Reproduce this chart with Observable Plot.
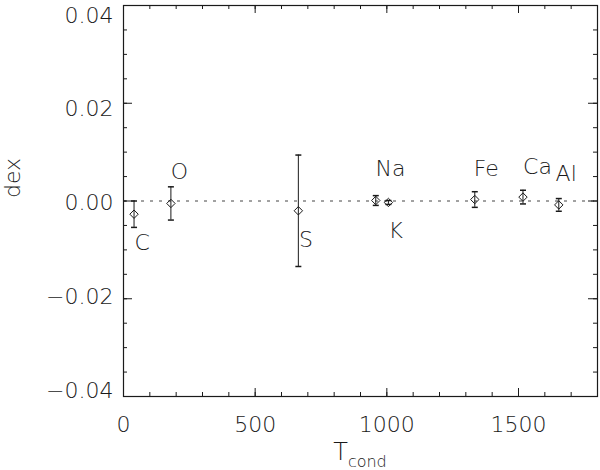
<!DOCTYPE html>
<html><head><meta charset="utf-8">
<script src="https://cdn.jsdelivr.net/npm/d3@7"></script>
<script src="https://cdn.jsdelivr.net/npm/@observablehq/plot@0.6"></script>
<style>
body{margin:0;background:#fff;}
#chart svg{display:block;}
</style></head><body><div id="chart"></div>
<script>
// ---- data ----
const elements = ["C", "O", "S", "Na", "K", "Fe", "Ca", "Al"];
const tcond    = [40, 180, 664, 958, 1006, 1334, 1517, 1653];
const dexVal   = [-0.0027, -0.0005, -0.0020, 0.0001, -0.0003, 0.0003, 0.0008, -0.0008];
const dexErr   = [0.0027, 0.0034, 0.0114, 0.0010, 0.0004, 0.0016, 0.0014, 0.0013];
// label anchors (data units)
const labelT   = [71, 212, 693, 1014, 1034, 1378, 1572, 1681];
const labelDex = [-0.0085, 0.0060, -0.0080, 0.0065, -0.0061, 0.0065, 0.0070, 0.0055];
// axes
const xMajor = [0, 500, 1000, 1500];
const xMinor = d3.range(0, 1801, 100);
const yMajor = [-0.04, -0.02, 0.00, 0.02, 0.04];
const yMinor = d3.range(-8, 9).map(i => i * 0.005);
const yTickLabels = ["\u22120.04", "\u22120.02", "0.00", "0.02", "0.04"];
const xTickLabels = ["0", "500", "1000", "1500"];

const points = elements.map((e, i) => ({el: e, t: tcond[i], v: dexVal[i], e: dexErr[i], lt: labelT[i], lv: labelDex[i]}));

const W = 600, H = 470, mL = 123, mR = 3, mT = 5, mB = 74;
const iw = W - mL - mR, ih = H - mT - mB;
const font = "DejaVu Sans";
const ink = "#1a1a1a";

const hbar = {draw(ctx, size) { const w = 3; ctx.moveTo(-w, 0); ctx.lineTo(w, 0); }};
const diamond = {draw(ctx, size) { const r = 4.2; ctx.moveTo(0, -r); ctx.lineTo(r, 0); ctx.lineTo(0, r); ctx.lineTo(-r, 0); ctx.closePath(); }};

const chart = Plot.plot({
  width: W, height: H,
  marginLeft: mL, marginRight: mR, marginTop: mT, marginBottom: mB,
  x: {domain: [0, 1800], axis: null},
  y: {domain: [-0.04, 0.04], axis: null},
  style: {fontFamily: font, background: "#fff", overflow: "visible"},
  marks: [
    Plot.ruleY([0], {stroke: "#444", strokeWidth: 1, strokeDasharray: "3,6"}),
    // ticks (inside, all four sides)
    Plot.tickX(xMinor, {x: d => d, insetTop: ih - 4, stroke: ink}),
    Plot.tickX(xMajor, {x: d => d, insetTop: ih - 8, stroke: ink}),
    Plot.tickX(xMinor, {x: d => d, insetBottom: ih - 4, stroke: ink}),
    Plot.tickX(xMajor, {x: d => d, insetBottom: ih - 8, stroke: ink}),
    Plot.tickY(yMinor, {y: d => d, insetRight: iw - 4, stroke: ink}),
    Plot.tickY(yMajor, {y: d => d, insetRight: iw - 9, stroke: ink}),
    Plot.tickY(yMinor, {y: d => d, insetLeft: iw - 4, stroke: ink}),
    Plot.tickY(yMajor, {y: d => d, insetLeft: iw - 9, stroke: ink}),
    Plot.frame({stroke: ink, strokeWidth: 1.2}),
    // error bars
    Plot.ruleX(points, {x: "t", y1: d => d.v - d.e, y2: d => d.v + d.e, stroke: ink}),
    Plot.dot(points, {x: "t", y: d => d.v + d.e, symbol: hbar, r: 3, stroke: ink, fill: "none"}),
    Plot.dot(points, {x: "t", y: d => d.v - d.e, symbol: hbar, r: 3, stroke: ink, fill: "none"}),
    Plot.dot(points, {x: "t", y: "v", symbol: diamond, r: 4, stroke: ink, fill: "none", strokeWidth: 1}),
    // element labels
    Plot.text(points, {x: "lt", y: "lv", text: "el", fontSize: 22, fontWeight: 200, fill: ink, lineAnchor: "middle"}),
    // tick labels
    Plot.text(xMajor, {x: d => d, frameAnchor: "bottom", text: (d, i) => xTickLabels[i], dy: 28, fontSize: 22, fontWeight: 200, fill: ink, lineAnchor: "middle"}),
    Plot.text(yMajor, {y: d => d * 0.96 - 0.00045, frameAnchor: "left", text: (d, i) => yTickLabels[i], dx: -10, textAnchor: "end", fontSize: 22, fontWeight: 200, fill: ink, lineAnchor: "middle"}),
    // y title
    Plot.text(["dex"], {frameAnchor: "left", dx: -111, dy: -3, rotate: -90, text: d => d, fontSize: 22, fontWeight: 200, fill: ink, lineAnchor: "middle"})
  ]
});

// x title with subscript
const svg = d3.select(chart);
const t = svg.append("text")
  .attr("x", mL + iw / 2).attr("y", H - 10)
  .attr("text-anchor", "middle")
  .attr("font-family", font).attr("font-weight", 200)
  .attr("font-size", 24).attr("fill", ink);
t.append("tspan").text("T");
t.append("tspan").attr("dy", 7).attr("font-size", 16).text("cond");

document.getElementById("chart").appendChild(chart);
</script>
</body></html>
